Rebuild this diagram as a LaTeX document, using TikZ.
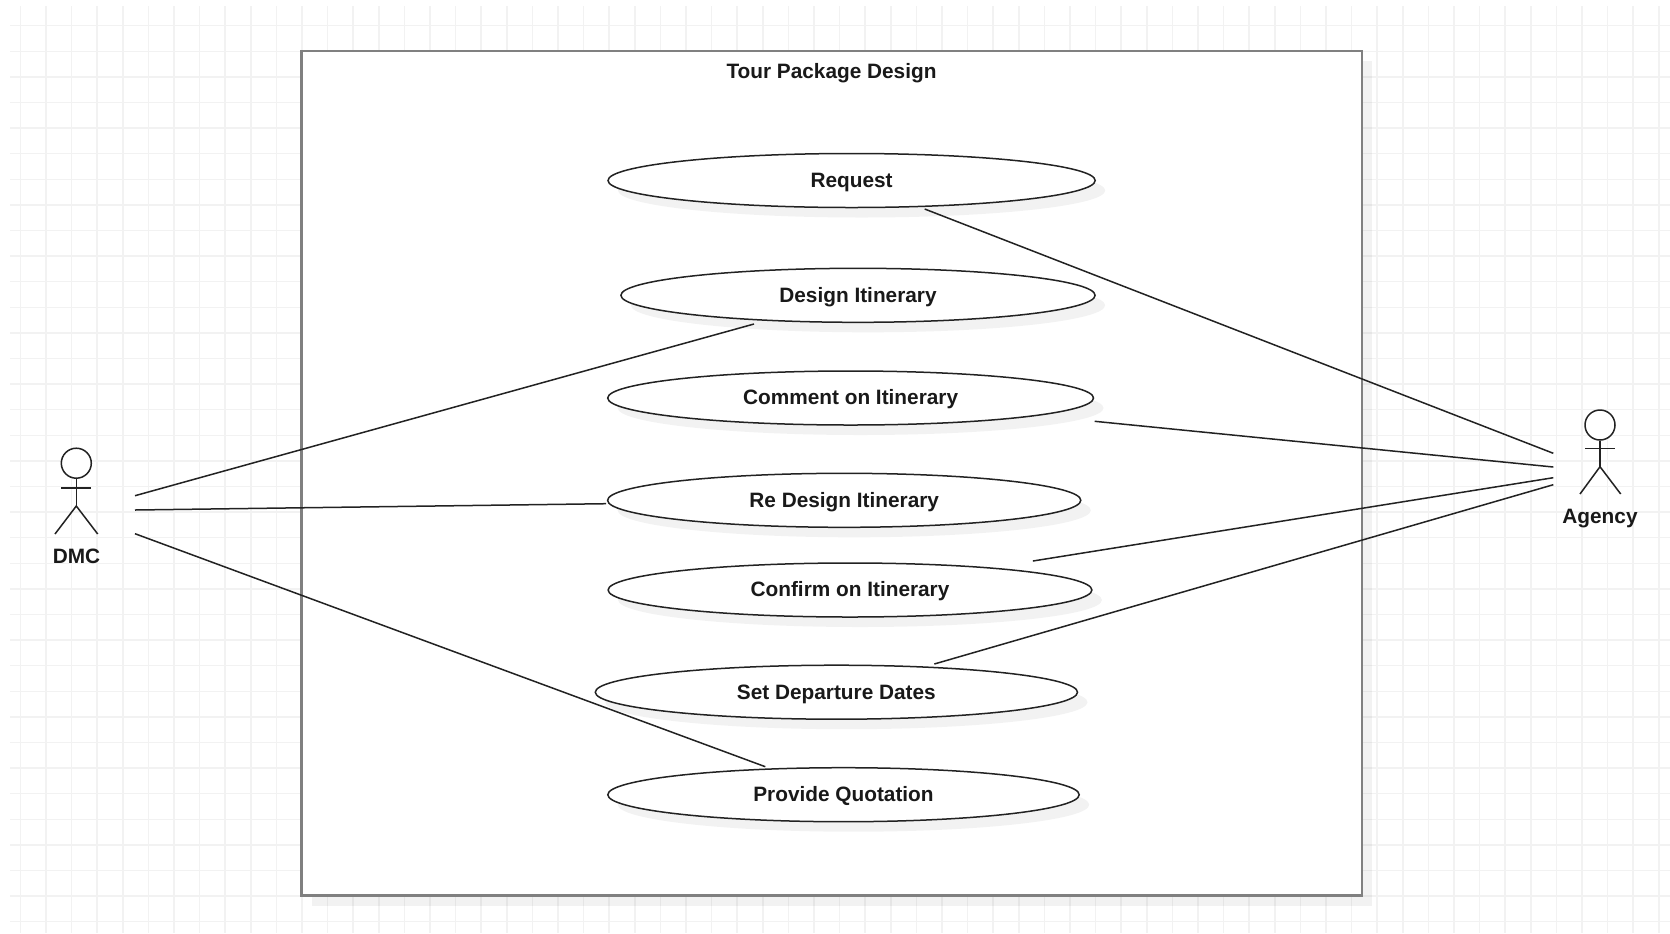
\documentclass[tikz,border=0pt]{standalone}
\usepackage{fontspec}
\setmainfont{Liberation Sans}
\usetikzlibrary{shapes.geometric,shadows}
\definecolor{gridc}{HTML}{F2F2F2}
\definecolor{framec}{HTML}{808080}
\definecolor{inkc}{HTML}{222222}
\tikzset{
  gridline/.style={draw=gridc,line width=0.75pt},
  softshadow/.style={drop shadow={shadow xshift=5pt,shadow yshift=-5pt,fill=black,opacity=0.05}},
  frame/.style={rectangle,draw=framec,line width=1.4pt,fill=white,inner sep=0pt,softshadow},
  usecase/.style={ellipse,draw=inkc,line width=0.75pt,fill=white,inner sep=0pt,minimum height=27pt,softshadow,
    font=\bfseries\fontsize{10.4}{12}\selectfont,text=black!90,text depth=0pt,text height=6.9pt},
  title/.style={font=\bfseries\fontsize{10.4}{12}\selectfont,text=black!90,inner sep=0pt,text depth=0pt,text height=7.2pt},
  head/.style={circle,draw=inkc,line width=0.75pt,fill=white,minimum size=15pt,inner sep=0pt},
  limb/.style={draw=inkc,line width=0.75pt},
  link/.style={draw=inkc,line width=0.75pt},
}
\begin{document}
\begin{tikzpicture}[x=0.5pt,y=-0.5pt]
\useasboundingbox (0,0) rectangle (1670,933);
\fill[white] (0,0) rectangle (1670,933);
% grid
\foreach \i in {0,...,64}{\draw[gridline] ({20.4+25.6*\i},6) -- ({20.4+25.6*\i},933);}
\foreach \j in {0,...,35}{\draw[gridline] (10,{25.7+25.6*\j}) -- (1670,{25.7+25.6*\j});}
% system boundary
\node[frame,minimum width=530.25pt,minimum height=422.35pt] (sys) at (831.75,473.35) {};
\node[title] (systitle) at (831.5,71.2) {Tour Package Design};
% use cases
\node[usecase,minimum width=243.6pt] (req) at (851.6,180.5) {Request};
\node[usecase,minimum width=237.1pt] (des) at (858,295.3) {Design Itinerary};
\node[usecase,minimum width=242.9pt] (com) at (850.6,398) {Comment on Itinerary};
\node[usecase,minimum width=236.6pt] (red) at (844.2,500.3) {Re Design Itinerary};
\node[usecase,minimum width=241.9pt] (con) at (850,590) {Confirm on Itinerary};
\node[usecase,minimum width=241.1pt] (dep) at (836.4,692.2) {Set Departure Dates};
\node[usecase,minimum width=235.7pt] (quo) at (843.5,794.7) {Provide Quotation};
% actor DMC
\node[head] (dmchead) at (76.3,463.2) {};
\coordinate (dmchip) at (76.3,506);
\coordinate (dmcarml) at (61.3,488);
\coordinate (dmcarmr) at (91.3,488);
\coordinate (dmclegl) at (55,534);
\coordinate (dmclegr) at (97.7,534);
\draw[limb] (dmchead.south) -- (dmchip);
\draw[limb] (dmcarml) -- (dmcarmr);
\draw[limb] (dmclegl) -- (dmchip) -- (dmclegr);
\node[title] (dmc) at (76.5,556) {DMC};
% actor Agency
\node[head] (agyhead) at (1600,425) {};
\coordinate (agyhip) at (1600,466.7);
\coordinate (agyarml) at (1585,448.7);
\coordinate (agyarmr) at (1615,448.7);
\coordinate (agylegl) at (1580,494);
\coordinate (agylegr) at (1620.7,494);
\draw[limb] (agyhead.south) -- (agyhip);
\draw[limb] (agyarml) -- (agyarmr);
\draw[limb] (agylegl) -- (agyhip) -- (agylegr);
\node[title] (agy) at (1600,516) {Agency};
% connector ends near the actors
\coordinate (dmca) at (135,495.7);
\coordinate (dmcb) at (135,510);
\coordinate (dmcc) at (135,533.7);
\coordinate (agya) at (1553.3,453.3);
\coordinate (agyb) at (1553.3,467);
\coordinate (agyc) at (1553.3,477.7);
\coordinate (agyd) at (1553.3,484.7);
% connector ends near the use cases
\coordinate (desend) at ([shift={(-104,28.7)}]des.center);
\coordinate (redend) at ([shift={(-238,3.4)}]red.center);
\coordinate (quoend) at ([shift={(-78.2,-28)}]quo.center);
\coordinate (reqend) at ([shift={(73.1,28.5)}]req.center);
\coordinate (comend) at ([shift={(244.1,23.3)}]com.center);
\coordinate (conend) at ([shift={(182.9,-29)}]con.center);
\coordinate (depend) at ([shift={(97.9,-28.2)}]dep.center);
% connectors
\draw[link] (dmca) -- (desend);
\draw[link] (dmcb) -- (redend);
\draw[link] (dmcc) -- (quoend);
\draw[link] (agya) -- (reqend);
\draw[link] (agyb) -- (comend);
\draw[link] (agyc) -- (conend);
\draw[link] (agyd) -- (depend);
\end{tikzpicture}
\end{document}
